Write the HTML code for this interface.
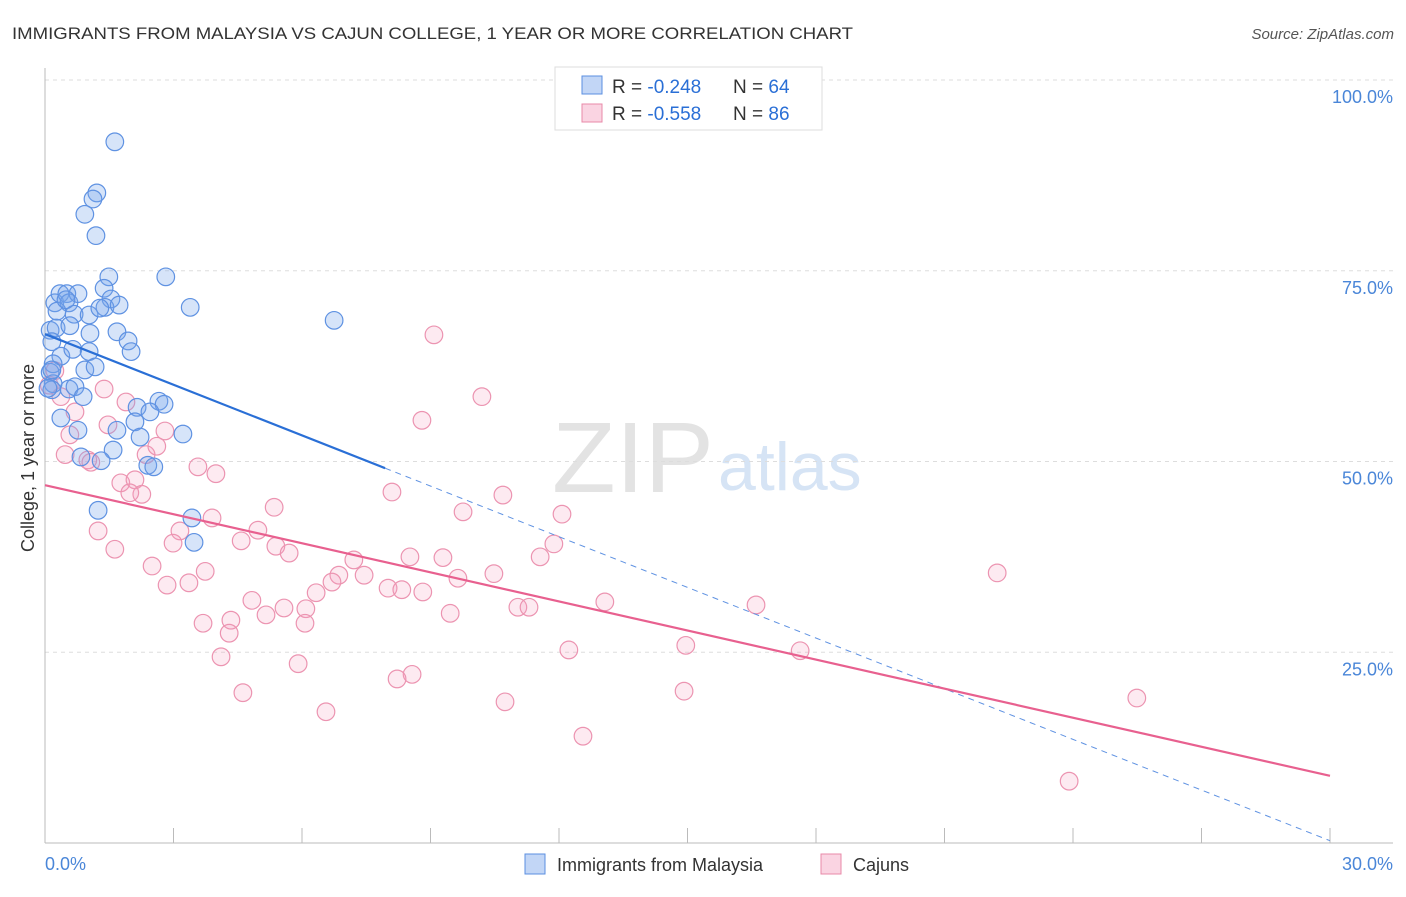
<!DOCTYPE html>
<html><head><meta charset="utf-8"><style>
body{margin:0;background:#fff;font-family:"Liberation Sans",sans-serif;}
svg text{font-family:"Liberation Sans",sans-serif;}
</style></head><body>
<svg id="chart" width="1406" height="892" xmlns="http://www.w3.org/2000/svg">
<text x="12" y="39" font-size="17" fill="#333" textLength="841" lengthAdjust="spacingAndGlyphs">IMMIGRANTS FROM MALAYSIA VS CAJUN COLLEGE, 1 YEAR OR MORE CORRELATION CHART</text>
<text x="1394" y="39" font-size="15" fill="#555" font-style="italic" text-anchor="end">Source: ZipAtlas.com</text>
<text x="552" y="492" font-size="100" fill="#e3e3e3" font-family="Liberation Serif" textLength="162" lengthAdjust="spacingAndGlyphs">ZIP</text>
<text x="718" y="490" font-size="68" fill="#d6e4f5">atlas</text>
<g id="grid"></g>
<g id="axes"></g>
<g id="marks"></g>
<text transform="translate(34,458) rotate(-90)" font-size="18" fill="#333" text-anchor="middle">College, 1 year or more</text>
<g>
<rect x="555" y="67" width="267" height="63" fill="#fff" stroke="#ddd"/>
<rect x="582" y="76" width="20" height="18" fill="rgba(120,165,235,0.45)" stroke="#5b8fe0"/>
<rect x="582" y="104" width="20" height="18" fill="rgba(245,160,190,0.45)" stroke="#e88aa8"/>
<text x="612" y="93" font-size="19" fill="#333">R = <tspan fill="#2a6fd6">-0.248</tspan></text>
<text x="733" y="93" font-size="19" fill="#333">N = <tspan fill="#2a6fd6">64</tspan></text>
<text x="612" y="120" font-size="19" fill="#333">R = <tspan fill="#2a6fd6">-0.558</tspan></text>
<text x="733" y="120" font-size="19" fill="#333">N = <tspan fill="#2a6fd6">86</tspan></text>
</g>
<g>
<rect x="525" y="854" width="20" height="20" fill="rgba(120,165,235,0.45)" stroke="#5b8fe0"/>
<text x="557" y="871" font-size="18" fill="#333">Immigrants from Malaysia</text>
<rect x="821" y="854" width="20" height="20" fill="rgba(245,160,190,0.45)" stroke="#e88aa8"/>
<text x="853" y="871" font-size="18" fill="#333">Cajuns</text>
</g>
</svg>
<script>
const blueX=[1.63,1.21,1.12,0.93,1.19,1.49,2.82,1.38,1.54,1.40,1.73,3.39,0.23,0.35,0.51,0.56,0.77,0.28,0.68,1.03,6.75,0.12,0.26,0.58,1.05,1.68,1.94,0.16,0.37,0.65,1.03,2.01,0.19,0.93,1.17,0.12,0.19,0.56,0.70,0.89,0.16,0.37,0.77,1.68,2.15,2.66,2.78,2.45,2.10,2.22,3.22,1.59,0.84,1.31,2.40,2.54,1.24,3.43,3.48,0.07,0.49,1.28,0.16];
const blueY=[91.9,85.2,84.4,82.4,79.6,74.2,74.2,72.7,71.3,70.2,70.5,70.2,70.8,72.0,72.0,70.8,72.0,69.7,69.3,69.2,68.5,67.2,67.5,67.8,66.8,67.0,65.8,65.7,63.8,64.7,64.4,64.4,62.8,62.0,62.4,61.7,60.2,59.5,59.8,58.5,59.4,55.7,54.1,54.1,57.1,57.9,57.5,56.5,55.2,53.2,53.6,51.5,50.6,50.1,49.5,49.3,43.6,42.6,39.4,59.6,71.2,70.1,62.0];
const pinkX=[9.08,10.20,8.80,1.38,0.23,0.37,0.70,1.89,1.47,0.58,2.80,0.47,1.00,1.07,2.36,2.61,3.57,3.99,1.77,2.10,2.26,1.98,8.10,10.69,9.76,12.07,5.35,3.90,1.24,3.15,2.99,4.97,4.58,5.39,5.70,11.88,11.56,8.52,9.29,7.21,1.63,2.50,3.74,2.85,3.36,6.86,7.45,6.70,6.33,8.01,8.33,8.82,9.64,10.48,4.83,6.09,5.58,13.07,16.60,11.04,11.30,9.46,5.16,3.69,4.34,4.30,6.07,22.23,12.23,14.96,17.63,4.11,5.91,8.57,8.22,4.62,14.92,25.49,6.56,10.74,12.56,23.91,0.1];
const pinkY=[66.6,58.5,55.4,59.5,61.9,58.5,56.5,57.8,54.8,53.5,54.0,50.9,50.2,49.9,50.9,52.0,49.3,48.4,47.2,47.6,45.7,45.9,46.0,45.6,43.4,43.1,44.0,42.6,40.9,40.9,39.3,41.0,39.6,38.9,38.0,39.2,37.5,37.5,37.4,37.1,38.5,36.3,35.6,33.8,34.1,35.1,35.1,34.2,32.8,33.4,33.2,32.9,34.7,35.3,31.8,30.7,30.8,31.6,31.2,30.9,30.9,30.1,29.9,28.8,29.2,27.5,28.8,35.4,25.3,25.9,25.2,24.4,23.5,22.1,21.5,19.7,19.9,19.0,17.2,18.5,14.0,8.1,60.0];
const blueTrend=[66.7,0.3];
const blueSolidEnd=7.94;
const pinkTrend=[46.9,8.8];
const xTickLabels=["0.0%","30.0%"];
const yTicks=[25,50,75,100];
const yTickLabels=["25.0%","50.0%","75.0%","100.0%"];

const NS="http://www.w3.org/2000/svg";
const X=v=>45+v/30*1285, Y=v=>843-v/100*763;
function mk(tag,attrs,parent){const e=document.createElementNS(NS,tag);for(const k in attrs)e.setAttribute(k,attrs[k]);parent.appendChild(e);return e;}
const grid=document.getElementById('grid'),axes=document.getElementById('axes'),marks=document.getElementById('marks');
yTicks.forEach((t,i)=>{
  const l=mk('line',{x1:45,x2:1393,y1:Y(t),y2:Y(t),stroke:'#ddd','stroke-dasharray':'4,4'},grid);
  
  
  const tx=mk('text',{x:1393,y:Y(t)+23,'font-size':18,fill:'#4a86d8','text-anchor':'end'},axes);
  tx.textContent=yTickLabels[i];
  
  
});
mk('line',{x1:45,x2:45,y1:68,y2:843,stroke:'#bbb'},axes);
mk('line',{x1:45,x2:1393,y1:843,y2:843,stroke:'#bbb'},axes);
for(let i=1;i<=10;i++){const t=mk('line',{x1:X(i*3),x2:X(i*3),y1:828,y2:843,stroke:'#bbb'},axes);
  
  }
const xl0=mk('text',{x:45,y:870,'font-size':18,fill:'#4a86d8'},axes);xl0.textContent=xTickLabels[0];


const xl1=mk('text',{x:1393,y:870,'font-size':18,fill:'#4a86d8','text-anchor':'end'},axes);xl1.textContent=xTickLabels[1];



pinkX.forEach((x,i)=>{const c=mk('circle',{cx:X(x),cy:Y(pinkY[i]),r:8.8,fill:'rgba(245,160,190,0.22)',stroke:'#ec94b1','stroke-width':1.2},marks);
  
  });
blueX.forEach((x,i)=>{const c=mk('circle',{cx:X(x),cy:Y(blueY[i]),r:8.8,fill:'rgba(120,165,235,0.3)',stroke:'#5f92e2','stroke-width':1.2},marks);
  
  });
const by=x=>blueTrend[0]+(blueTrend[1]-blueTrend[0])*x/30;
const bl=mk('line',{x1:X(0),y1:Y(by(0)),x2:X(blueSolidEnd),y2:Y(by(blueSolidEnd)),stroke:'#2a6fd6','stroke-width':2.2},marks);


const bd=mk('line',{x1:X(blueSolidEnd),y1:Y(by(blueSolidEnd)),x2:X(30),y2:Y(by(30)),stroke:'#5f92e2','stroke-width':1,'stroke-dasharray':'6,5'},marks);


const pl=mk('line',{x1:X(0),y1:Y(pinkTrend[0]),x2:X(30),y2:Y(pinkTrend[1]),stroke:'#e8608f','stroke-width':2.2},marks);


</script>
</body></html>
